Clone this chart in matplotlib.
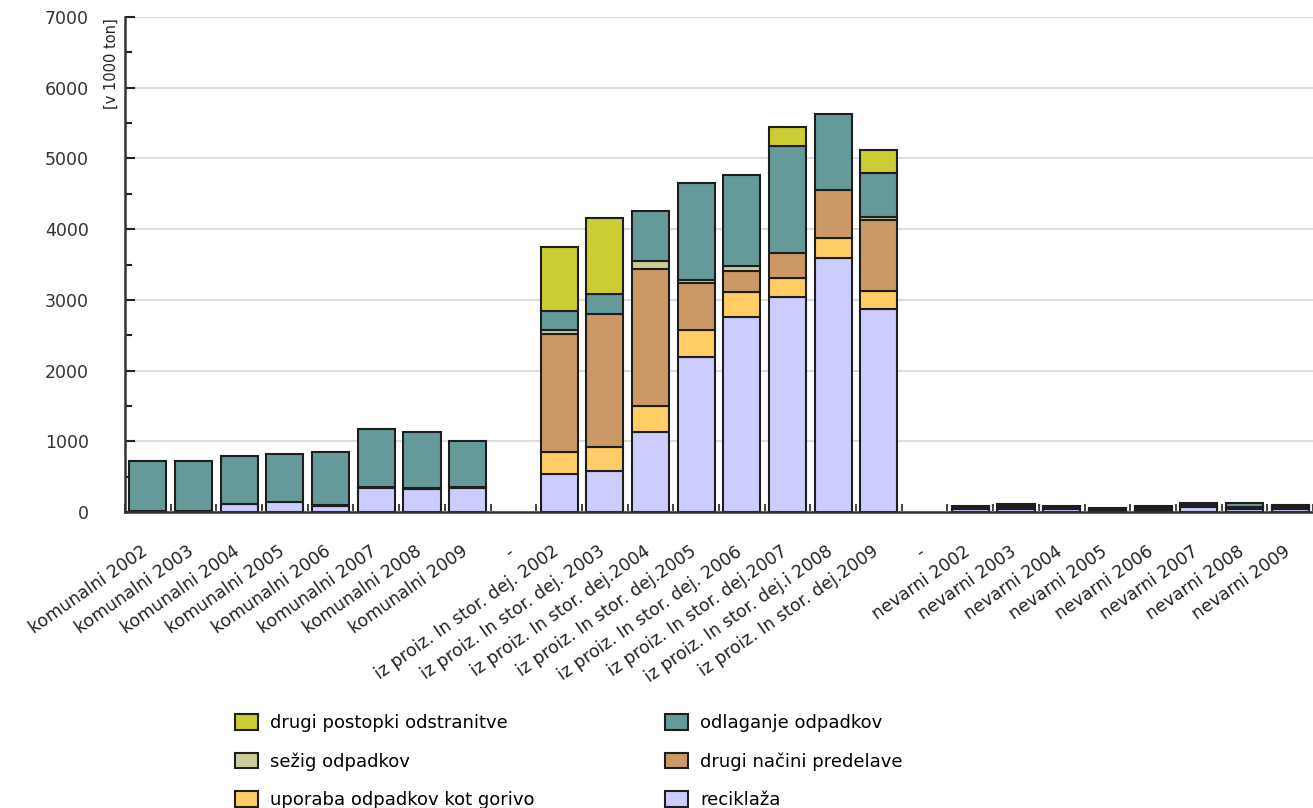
import numpy as np
import matplotlib
matplotlib.use("Agg")
import matplotlib.pyplot as plt
from matplotlib.patches import Patch
from matplotlib.ticker import MultipleLocator, FixedLocator
import matplotlib.transforms as mtransforms

plt.rcParams['font.family'] = ['DejaVu Sans']

kom_labels = ["komunalni 2002", "komunalni 2003", "komunalni 2004", "komunalni 2005",
              "komunalni 2006", "komunalni 2007", "komunalni 2008", "komunalni 2009"]
iz_labels = ["iz proiz. In stor. dej. 2002", "iz proiz. In stor. dej. 2003",
             "iz proiz. In stor. dej.2004", "iz proiz. In stor. dej.2005",
             "iz proiz. In stor. dej. 2006", "iz proiz. In stor. dej.2007",
             "iz proiz. In stor. dej.i 2008", "iz proiz. In stor. dej.2009"]
nev_labels = ["nevarni 2002", "nevarni 2003", "nevarni 2004", "nevarni 2005",
              "nevarni 2006", "nevarni 2007", "nevarni 2008", "nevarni 2009"]
gap_label = "-"

# values in 1000 ton, per group (komunalni, iz proiz., nevarni)
reciklaza_kom = [15, 15, 113, 137, 85, 340, 325, 335]
reciklaza_iz = [537, 585, 1127, 2197, 2753, 3036, 3593, 2871]
reciklaza_nev = [40, 40, 40, 15, 15, 70, 40, 40]

gorivo_kom = [0, 0, 0, 0, 0, 0, 0, 0]
gorivo_iz = [307, 330, 372, 373, 354, 278, 287, 259]
gorivo_nev = [10, 15, 10, 10, 20, 10, 10, 15]

drugi_nacini_kom = [5, 5, 0, 0, 15, 20, 15, 15]
drugi_nacini_iz = [1678, 1890, 1933, 674, 302, 349, 679, 1004]
drugi_nacini_nev = [15, 25, 15, 15, 25, 15, 15, 20]

sezig_kom = [0, 0, 0, 0, 0, 0, 0, 0]
sezig_iz = [48, 0, 118, 33, 71, 0, 0, 34]
sezig_nev = [0, 10, 0, 5, 5, 10, 5, 10]

odlaganje_kom = [701, 701, 679, 683, 744, 810, 785, 654]
odlaganje_iz = [278, 278, 703, 1372, 1287, 1518, 1075, 623]
odlaganje_nev = [15, 20, 15, 12, 15, 20, 55, 20]

drugi_postopki_kom = [0, 0, 0, 0, 0, 0, 0, 0]
drugi_postopki_iz = [896, 1080, 0, 0, 0, 265, 0, 329]
drugi_postopki_nev = [0, 0, 0, 0, 0, 0, 0, 0]

series_names = ["reciklaža", "uporaba odpadkov kot gorivo", "drugi načini predelave",
                "sežig odpadkov", "odlaganje odpadkov", "drugi postopki odstranitve"]
series_colors = ["#CCCCFF", "#FFCC66", "#CC9966", "#CCCC99", "#669999", "#CCCC33"]
series_groups = [
    (reciklaza_kom, reciklaza_iz, reciklaza_nev),
    (gorivo_kom, gorivo_iz, gorivo_nev),
    (drugi_nacini_kom, drugi_nacini_iz, drugi_nacini_nev),
    (sezig_kom, sezig_iz, sezig_nev),
    (odlaganje_kom, odlaganje_iz, odlaganje_nev),
    (drugi_postopki_kom, drugi_postopki_iz, drugi_postopki_nev),
]

categories = kom_labels + [gap_label] + iz_labels + [gap_label] + nev_labels
n = len(categories)
data_mask = np.array([c != gap_label for c in categories])
xpos = np.arange(n)

W, H = 1313, 808
fig = plt.figure(figsize=(W / 100, H / 100), dpi=100)
ax = fig.add_axes([125 / W, 1 - 512 / H, (W - 125) / W, (512 - 17) / H])

bottom = np.zeros(n)
edge = "#1e1e1e"
for name, color, grp in zip(series_names, series_colors, series_groups):
    vals = np.array(list(grp[0]) + [0] + list(grp[1]) + [0] + list(grp[2]), dtype=float)
    m = data_mask & (vals > 0)
    ax.bar(xpos[m], vals[m], bottom=bottom[m], width=0.81, color=color,
           edgecolor=edge, linewidth=1.5, zorder=3)
    bottom += vals

ax.set_xlim(-0.5, n - 0.5)
ax.set_ylim(0, 7000)
ax.yaxis.set_major_locator(MultipleLocator(1000))
ax.yaxis.set_minor_locator(MultipleLocator(500))
ax.grid(axis='y', which='major', color='#dddddd', linewidth=1.5, zorder=0)
ax.set_axisbelow(True)

for s in ['top', 'right']:
    ax.spines[s].set_visible(False)
for s in ['left', 'bottom']:
    ax.spines[s].set_color('#333333')
    ax.spines[s].set_linewidth(1.8)
    ax.spines[s].set_zorder(4)

ax.tick_params(axis='y', which='major', direction='in', length=7, width=1.5,
               color='#222222', pad=26, labelsize=12.5, labelcolor='#333333')
ax.tick_params(axis='y', which='minor', direction='in', length=5, width=1.5,
               color='#222222')

ax.set_xticks(xpos)
ax.set_xticklabels(categories, rotation=35, ha='right', rotation_mode='anchor',
                   fontsize=12.5, color='#222222')
ax.xaxis.set_minor_locator(FixedLocator(np.arange(n + 1) - 0.5))
ax.tick_params(axis='x', which='major', length=0, pad=22)
ax.tick_params(axis='x', which='minor', direction='in', length=6, width=1.2,
               color='#222222')
offset = mtransforms.ScaledTranslation(-7 / 100, 0, fig.dpi_scale_trans)
for lab in ax.get_xticklabels():
    lab.set_transform(lab.get_transform() + offset)

fig.text(111.5 / W, 1 - 18 / H, "[v 1000 ton]", rotation=90, ha='center', va='top',
         fontsize=10.5, color='#222222')

handles = {nm: Patch(facecolor=c, edgecolor=edge, linewidth=1.5)
           for nm, c in zip(series_names, series_colors)}
order = ["drugi postopki odstranitve", "sežig odpadkov", "uporaba odpadkov kot gorivo",
         "odlaganje odpadkov", "drugi načini predelave", "reciklaža"]
fig.legend([handles[o] for o in order], order, loc='upper left',
           bbox_to_anchor=(235 / W, 1 - 714 / H), ncol=2, frameon=False, fontsize=13,
           handlelength=1.3, handleheight=0.95, handletextpad=0.65, labelspacing=1.12,
           columnspacing=7.2, borderpad=0, borderaxespad=0)

fig.savefig("out.png", dpi=100)
